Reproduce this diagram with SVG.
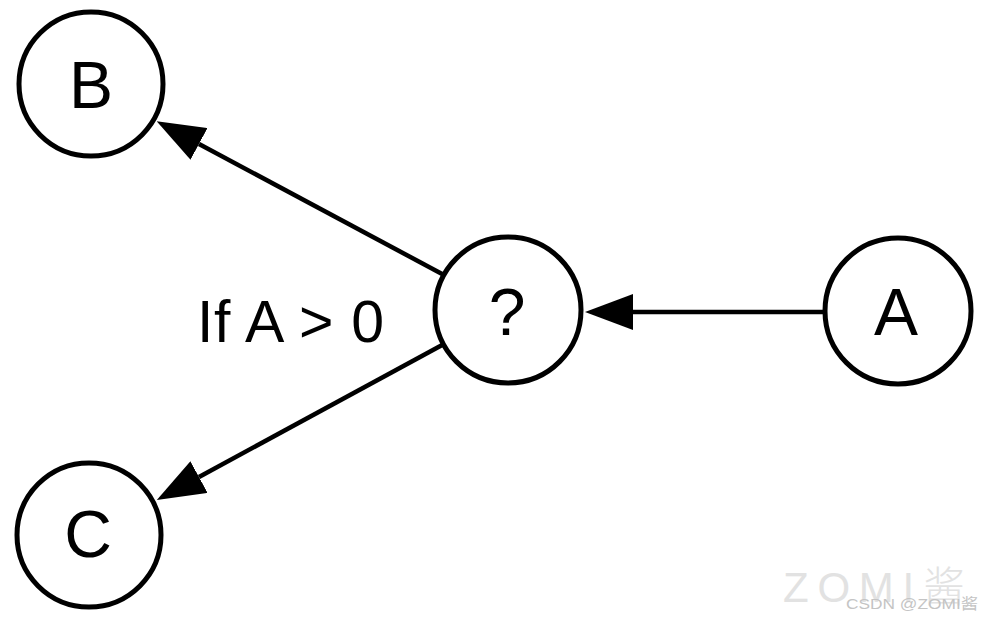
<svg xmlns="http://www.w3.org/2000/svg" width="983" height="620" viewBox="0 0 983 620">
<style>
.node circle{fill:#fff;stroke:#000;stroke-width:5}
.node text{font-family:"Liberation Sans",Arial,sans-serif;font-size:66px;fill:#000;text-anchor:middle}
.edge{stroke:#000;stroke-width:4.5;fill:none;marker-end:url(#arrow)}
.label{font-family:"Liberation Sans",Arial,sans-serif;font-size:59px;fill:#000}
.wm{font-family:"Liberation Sans","Noto Sans CJK SC",sans-serif}
</style>
<defs>
<marker id="arrow" viewBox="0 0 48 36" refX="0" refY="18" markerWidth="48" markerHeight="36" markerUnits="userSpaceOnUse" orient="auto">
<path d="M0,0 L48,18 L0,36 z" fill="#000"/>
</marker>
</defs>
<rect width="983" height="620" fill="#fff"/>
<g id="connectors">
<line class="edge" x1="823" y1="312" x2="633" y2="312"/>
<line class="edge" x1="444" y1="275" x2="199" y2="144"/>
<line class="edge" x1="444" y1="344" x2="199" y2="477"/>
</g>
<g id="node-B" class="node"><circle cx="91" cy="84" r="72"/><text x="91" y="108">B</text></g>
<g id="node-C" class="node"><circle cx="89" cy="535" r="72"/><text x="88" y="557">C</text></g>
<g id="node-Q" class="node"><circle cx="508" cy="310" r="73"/><text x="507" y="335">?</text></g>
<g id="node-A" class="node"><circle cx="898" cy="311" r="73"/><text x="896" y="335">A</text></g>
<text class="label" x="197" y="342" textLength="187" lengthAdjust="spacing">If A &gt; 0</text>
<g id="watermark">
<text class="wm" x="783" y="602" font-size="42" font-weight="300" fill="#e2e2e2" textLength="182" lengthAdjust="spacing">ZOMI酱</text>
<text class="wm" x="846" y="609" font-size="15" fill="#c4c4c4" textLength="132" lengthAdjust="spacingAndGlyphs">CSDN @ZOMI酱</text>
</g>
</svg>
